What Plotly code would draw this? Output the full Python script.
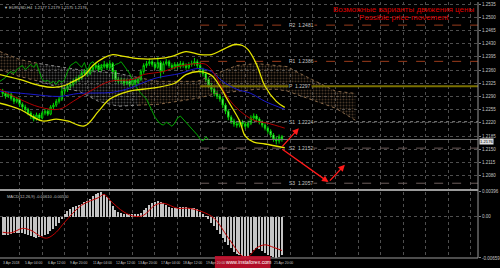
import plotly.graph_objects as go

# ---------------- DATA ----------------
# H4 bars, index 0..99
opens = [
1.2302, 1.2298, 1.2291, 1.2296, 1.2285, 1.2277, 1.2283, 1.2269, 1.2262, 1.2256,
1.2246, 1.2238, 1.2230, 1.2241, 1.2233, 1.2246, 1.2251, 1.2243, 1.2262, 1.2267,
1.2277, 1.2283, 1.2304, 1.2309, 1.2317, 1.2322, 1.2330, 1.2335, 1.2340, 1.2351,
1.2356, 1.2351, 1.2361, 1.2367, 1.2372, 1.2361, 1.2369, 1.2375, 1.2367, 1.2377,
1.2356, 1.2335, 1.2330, 1.2333, 1.2325, 1.2330, 1.2322, 1.2333, 1.2327, 1.2335,
1.2356, 1.2372, 1.2377, 1.2382, 1.2375, 1.2367, 1.2380, 1.2356, 1.2377, 1.2382,
1.2372, 1.2367, 1.2375, 1.2369, 1.2377, 1.2372, 1.2367, 1.2375, 1.2377, 1.2382,
1.2372, 1.2361, 1.2351, 1.2335, 1.2319, 1.2309, 1.2298, 1.2291, 1.2283, 1.2267,
1.2251, 1.2235, 1.2225, 1.2217, 1.2214, 1.2222, 1.2217, 1.2211, 1.2219, 1.2233,
1.2238, 1.2230, 1.2222, 1.2214, 1.2206, 1.2198, 1.2188, 1.2177, 1.2172, 1.2183]
closes = [
1.2298, 1.2291, 1.2296, 1.2285, 1.2277, 1.2283, 1.2269, 1.2262, 1.2256, 1.2246,
1.2238, 1.2230, 1.2241, 1.2233, 1.2246, 1.2251, 1.2243, 1.2262, 1.2267, 1.2277,
1.2283, 1.2304, 1.2309, 1.2317, 1.2322, 1.2330, 1.2335, 1.2340, 1.2351, 1.2356,
1.2351, 1.2361, 1.2367, 1.2372, 1.2361, 1.2369, 1.2375, 1.2367, 1.2377, 1.2356,
1.2335, 1.2330, 1.2333, 1.2325, 1.2330, 1.2322, 1.2333, 1.2327, 1.2335, 1.2356,
1.2372, 1.2377, 1.2382, 1.2375, 1.2367, 1.2380, 1.2356, 1.2377, 1.2382, 1.2372,
1.2367, 1.2375, 1.2369, 1.2377, 1.2372, 1.2367, 1.2375, 1.2377, 1.2382, 1.2372,
1.2361, 1.2351, 1.2335, 1.2319, 1.2309, 1.2298, 1.2291, 1.2283, 1.2267, 1.2251,
1.2235, 1.2225, 1.2217, 1.2214, 1.2222, 1.2217, 1.2211, 1.2219, 1.2233, 1.2238,
1.2230, 1.2222, 1.2214, 1.2206, 1.2198, 1.2188, 1.2177, 1.2172, 1.2183, 1.2176]
highs = [
1.2310, 1.2304, 1.2302, 1.2300, 1.2290, 1.2289, 1.2287, 1.2274, 1.2268, 1.2260,
1.2251, 1.2243, 1.2247, 1.2246, 1.2251, 1.2257, 1.2256, 1.2267, 1.2273, 1.2283,
1.2290, 1.2320, 1.2316, 1.2324, 1.2330, 1.2337, 1.2342, 1.2347, 1.2358, 1.2363,
1.2362, 1.2368, 1.2374, 1.2380, 1.2378, 1.2376, 1.2384, 1.2380, 1.2386, 1.2381,
1.2360, 1.2342, 1.2340, 1.2338, 1.2337, 1.2335, 1.2339, 1.2338, 1.2341, 1.2362,
1.2378, 1.2384, 1.2390, 1.2388, 1.2381, 1.2394, 1.2385, 1.2383, 1.2389, 1.2387,
1.2378, 1.2381, 1.2380, 1.2384, 1.2383, 1.2378, 1.2381, 1.2385, 1.2392, 1.2388,
1.2382, 1.2366, 1.2356, 1.2340, 1.2325, 1.2314, 1.2304, 1.2297, 1.2288, 1.2272,
1.2256, 1.2240, 1.2231, 1.2223, 1.2229, 1.2228, 1.2223, 1.2226, 1.2240, 1.2245,
1.2243, 1.2235, 1.2227, 1.2219, 1.2211, 1.2203, 1.2193, 1.2183, 1.2189, 1.2188]
lows = [
1.2290, 1.2284, 1.2286, 1.2279, 1.2270, 1.2272, 1.2262, 1.2255, 1.2249, 1.2240,
1.2230, 1.2224, 1.2226, 1.2227, 1.2229, 1.2240, 1.2238, 1.2240, 1.2256, 1.2262,
1.2271, 1.2278, 1.2297, 1.2302, 1.2311, 1.2316, 1.2324, 1.2329, 1.2334, 1.2345,
1.2343, 1.2346, 1.2355, 1.2361, 1.2355, 1.2356, 1.2364, 1.2360, 1.2362, 1.2335,
1.2328, 1.2323, 1.2324, 1.2318, 1.2320, 1.2316, 1.2318, 1.2321, 1.2322, 1.2331,
1.2350, 1.2366, 1.2371, 1.2369, 1.2361, 1.2362, 1.2338, 1.2350, 1.2372, 1.2366,
1.2360, 1.2362, 1.2363, 1.2364, 1.2366, 1.2361, 1.2362, 1.2369, 1.2371, 1.2365,
1.2350, 1.2343, 1.2328, 1.2312, 1.2301, 1.2290, 1.2283, 1.2276, 1.2259, 1.2243,
1.2227, 1.2217, 1.2210, 1.2207, 1.2208, 1.2210, 1.2204, 1.2206, 1.2214, 1.2227,
1.2224, 1.2216, 1.2208, 1.2200, 1.2191, 1.2181, 1.2170, 1.2163, 1.2165, 1.2170]
bars = list(range(len(closes)))
chikou_shift = 26

# Bollinger bands (yellow)
bb_up_bars = [-1, 6, 13, 18, 22, 25, 29, 32, 36, 39, 43, 48, 55, 60, 65, 70, 74, 78, 82, 85, 87, 90, 93, 97, 100]
bb_up_vals = [1.2348, 1.2335, 1.2319, 1.2314, 1.2319, 1.2330, 1.2346, 1.2372, 1.2393, 1.2401, 1.2396, 1.2390,
              1.2390, 1.2396, 1.2409, 1.2401, 1.2401, 1.2414, 1.2427, 1.2425, 1.2414, 1.2375, 1.2317, 1.2277, 1.2261]
bb_lo_bars = [-1, 6, 14, 19, 23, 29, 34, 38, 45, 53, 61, 65, 70, 74, 77, 80, 84, 86, 89, 93, 100]
bb_lo_vals = [1.2272, 1.2256, 1.2225, 1.2230, 1.2225, 1.2212, 1.2251, 1.2283, 1.2304, 1.2312, 1.2325, 1.2348,
              1.2356, 1.2346, 1.2317, 1.2277, 1.2225, 1.2185, 1.2169, 1.2164, 1.2154]
# moving averages
ma_red_bars = [-1, 6, 13, 20, 25, 31, 38, 46, 50, 57, 62, 69, 72, 75, 79, 83, 89, 94, 100]
ma_red_vals = [1.2309, 1.2283, 1.2262, 1.2256, 1.2277, 1.2304, 1.2330, 1.2335, 1.2348, 1.2356, 1.2369, 1.2377,
               1.2375, 1.2351, 1.2296, 1.2259, 1.2227, 1.2219, 1.2206]
ma_blue_bars = [-1, 10, 20, 27, 39, 45, 54, 63, 69, 74, 78, 83, 88, 93, 100]
ma_blue_vals = [1.2304, 1.2296, 1.2290, 1.2298, 1.2301, 1.2312, 1.2338, 1.2351, 1.2364, 1.2356, 1.2330, 1.2309,
                1.2298, 1.2277, 1.2256]
# Ichimoku cloud
cloud_bars = [-1, 6, 13, 20, 27, 34, 41, 48, 55, 62, 69, 76, 83, 90, 97, 101, 104, 111, 118, 125]
span_a = [1.2409, 1.2388, 1.2377, 1.2369, 1.2361, 1.2356, 1.2351, 1.2340, 1.2330, 1.2330, 1.2330, 1.2351,
          1.2372, 1.2377, 1.2372, 1.2369, 1.2356, 1.2330, 1.2304, 1.2298]
span_b = [1.2361, 1.2343, 1.2330, 1.2314, 1.2304, 1.2277, 1.2264, 1.2267, 1.2269, 1.2277, 1.2285, 1.2298,
          1.2304, 1.2309, 1.2309, 1.2304, 1.2296, 1.2277, 1.2259, 1.2227]

# pivot levels
pivot_names = ["R2", "R1", "P", "S1", "S2", "S3"]
pivot_text_vals = ["1.2481", "1.2386", "1.2297", "1.2224", "1.2152", "1.2057"]
pivot_levels = [1.2479, 1.2383, 1.2317, 1.2223, 1.2153, 1.2060]
pivot_colors = ["#9a3c1c", "#9a3c1c", "#7a7000", "#8c8c8c", "#6c5a58", "#6c5e5c"]
pivot_dash = ["dash", "dash", "solid", "dot", "dash", "dash"]
pivot_width = [1, 1, 2, 1, 1, 1]
pivot_start_bar = 70
pivot_label_bar = 101
last_price = 1.2176

# forecast path (bar, price)
fc_start = (98.6, 1.2153)
fc_up = (105.0, 1.2206)
fc_low = (115.5, 1.2063)
fc_rebound = (121.3, 1.2109)

# MACD
macd_hist = [
-0.0028, -0.0029, -0.0028, -0.0027, -0.0026, -0.0025, -0.0025, -0.0026, -0.0027, -0.0028,
-0.0030, -0.0032, -0.0033, -0.0032, -0.0031, -0.0029, -0.0027, -0.0023, -0.0019, -0.0015,
-0.0010, -0.0004, 0.0004, 0.0009, 0.0013, 0.0016, 0.0017, 0.0019, 0.0021, 0.0023,
0.0026, 0.0029, 0.0033, 0.0036, 0.0038, 0.0039, 0.0037, 0.0032, 0.0025, 0.0017,
0.0011, 0.0008, 0.0006, 0.0005, 0.0004, 0.0004, 0.0004, 0.0004, 0.0005, 0.0007,
0.0011, 0.0015, 0.0019, 0.0022, 0.0024, 0.0026, 0.0024, 0.0022, 0.0019, 0.0016,
0.0015, 0.0015, 0.0015, 0.0016, 0.0016, 0.0016, 0.0015, 0.0015, 0.0014, 0.0012,
0.0008, 0.0004, 0.0001, -0.0003, -0.0009, -0.0015, -0.0021, -0.0027, -0.0033, -0.0039,
-0.0045, -0.0050, -0.0055, -0.0058, -0.0060, -0.0062, -0.0063, -0.0062, -0.0057, -0.0052,
-0.0050, -0.0051, -0.0054, -0.0057, -0.0060, -0.0062, -0.0064, -0.0065, -0.0063, -0.0061]
signal_bars = [0, 3, 7, 10, 14, 16, 19, 22, 28, 34, 36, 38, 43, 47, 50, 54, 57, 62, 66, 71, 75, 80, 85, 87, 90, 93, 96, 99]
signal_vals = [-0.0025, -0.0026, -0.0019, -0.0022, -0.0033, -0.0034, -0.0025, -0.0009, 0.0018, 0.0030, 0.0035,
               0.0026, 0.0007, 0.0000, 0.0002, 0.0018, 0.0021, 0.0013, 0.0013, 0.0007, -0.0003, -0.0034,
               -0.0063, -0.0064, -0.0050, -0.0045, -0.0049, -0.0054]

# axes
price_ticks = [1.2045, 1.2080, 1.2115, 1.2150, 1.2185, 1.2220, 1.2255, 1.2290, 1.2325, 1.2360,
               1.2395, 1.2430, 1.2465, 1.2500, 1.2535]
price_tick_text = ["1.2045", "1.2080", "1.2115", "1.2150", "1.2185", "1.2220", "1.2255", "1.2290",
                   "1.2325", "1.2360", "1.2395", "1.2430", "1.2465", "1.2500", "1.2535"]
macd_ticks = [0.00396, 0.0, -0.00659]
macd_tick_text = ["0.00396", "0.00", "-0.00659"]
grid_bars = [-2, 6, 14, 22, 30, 38, 46, 54, 62, 70, 78, 86, 94, 102, 110, 118, 126, 134, 142, 150, 158, 166]
# visible date labels (the two under the broker logo are hidden in the reference)
date_bars = [-2, 6, 14, 22, 30, 38, 46, 54, 62, 70, 94]
date_labels = ["3 Apr 2018", "5 Apr 04:00", "6 Apr 12:00", "9 Apr 20:00", "11 Apr 04:00", "12 Apr 12:00",
               "13 Apr 20:00", "17 Apr 04:00", "18 Apr 12:00", "19 Apr 20:00", "25 Apr 20:00"]

X_RANGE = [-0.94, 168.5]
Y_RANGE = [1.20459, 1.25403]
M_RANGE = [-0.00659, 0.00396]
FONT = "Liberation Sans"
TXT = "#c4c4c4"
GRID = "#4e4e4e"

fig = go.Figure()

# Ichimoku cloud in three colour segments
segments = [(0, 3, "#8b6b4b"), (2, 8, "#8a8a8a"), (7, len(cloud_bars), "#8b6b4b")]
for a, b, col in segments:
    fig.add_trace(go.Scatter(x=cloud_bars[a:b], y=span_b[a:b], mode="lines",
                             line=dict(color=col, width=1, dash="dot"), hoverinfo="skip"))
    fig.add_trace(go.Scatter(x=cloud_bars[a:b], y=span_a[a:b], mode="lines",
                             line=dict(color=col, width=1, dash="dot"), fill="tonexty",
                             fillcolor="rgba(0,0,0,0)",
                             fillpattern=dict(shape=".", fgcolor=col, bgcolor="rgba(0,0,0,0)",
                                              size=3, solidity=0.35),
                             hoverinfo="skip"))

# pivot lines
for lvl, col, dsh, w in zip(pivot_levels, pivot_colors, pivot_dash, pivot_width):
    fig.add_trace(go.Scatter(x=[pivot_start_bar, X_RANGE[1]], y=[lvl, lvl], mode="lines",
                             line=dict(color=col, width=w, dash=dsh), hoverinfo="skip"))

# current price line
fig.add_trace(go.Scatter(x=X_RANGE, y=[last_price, last_price], mode="lines",
                         line=dict(color="#7a7a7a", width=1), hoverinfo="skip"))

# chikou span (closes shifted back)
fig.add_trace(go.Scatter(x=[b - chikou_shift for b in bars], y=closes, mode="lines",
                         line=dict(color="#00a800", width=1), hoverinfo="skip"))

# moving averages
fig.add_trace(go.Scatter(x=ma_blue_bars, y=ma_blue_vals, mode="lines", line_shape="spline",
                         line=dict(color="#1a1acc", width=1), hoverinfo="skip"))
fig.add_trace(go.Scatter(x=ma_red_bars, y=ma_red_vals, mode="lines", line_shape="spline",
                         line=dict(color="#b00000", width=1), hoverinfo="skip"))
# bollinger
fig.add_trace(go.Scatter(x=bb_up_bars, y=bb_up_vals, mode="lines", line_shape="spline",
                         line=dict(color="#e4e400", width=1.3), hoverinfo="skip"))
fig.add_trace(go.Scatter(x=bb_lo_bars, y=bb_lo_vals, mode="lines", line_shape="spline",
                         line=dict(color="#e4e400", width=1.3), hoverinfo="skip"))

# candles
fig.add_trace(go.Candlestick(x=bars, open=opens, high=highs, low=lows, close=closes,
                             increasing=dict(line=dict(color="#00d000", width=1), fillcolor="#000000"),
                             decreasing=dict(line=dict(color="#00d000", width=1), fillcolor="#d8ffd8"),
                             whiskerwidth=0, hoverinfo="skip"))

# MACD
fig.add_trace(go.Bar(x=bars, y=macd_hist, width=0.45, marker=dict(color="#c4c4c4", line=dict(width=0)),
                     xaxis="x2", yaxis="y2", hoverinfo="skip"))
fig.add_trace(go.Scatter(x=signal_bars, y=signal_vals, mode="lines", line_shape="spline",
                         line=dict(color="#c00000", width=1), xaxis="x2", yaxis="y2", hoverinfo="skip"))

axis_common = dict(range=X_RANGE, tickvals=grid_bars, showticklabels=False, showgrid=True,
                   gridcolor=GRID, griddash="dot", gridwidth=1, zeroline=False, ticks="",
                   showline=False, fixedrange=True)

fig.update_layout(
    width=500, height=268, margin=dict(l=0, r=15, t=0, b=10),
    paper_bgcolor="#000000", plot_bgcolor="#000000", showlegend=False,
    font=dict(family=FONT, color=TXT, size=5),
    xaxis=dict(domain=[0, 1], anchor="y", rangeslider=dict(visible=False), **axis_common),
    xaxis2=dict(domain=[0, 1], anchor="y2", matches="x", **axis_common),
    yaxis=dict(domain=[0.2713, 1], range=Y_RANGE, side="right", anchor="x",
               tickvals=price_ticks, ticktext=price_tick_text, tickfont=dict(size=4.5, color=TXT),
               showgrid=True, gridcolor=GRID, griddash="dot", zeroline=False,
               ticks="outside", ticklen=2, tickcolor="#808080"),
    yaxis2=dict(domain=[0, 0.2597], range=M_RANGE, side="right", anchor="x2",
                tickvals=macd_ticks, ticktext=macd_tick_text, tickfont=dict(size=4.5, color=TXT),
                showgrid=True, gridcolor=GRID, griddash="dot", zeroline=False,
                ticks="outside", ticklen=2, tickcolor="#808080"),
    bargap=0,
)

shapes = [
    dict(type="line", xref="paper", yref="paper", x0=1, x1=1, y0=0, y1=1,
         line=dict(color="#9a9a9a", width=1)),
    dict(type="line", xref="paper", yref="paper", x0=0, x1=1, y0=0.2655, y1=0.2655,
         line=dict(color="#9a9a9a", width=2)),
    dict(type="line", xref="paper", yref="paper", x0=0, x1=1, y0=0, y1=0,
         line=dict(color="#9a9a9a", width=1)),
    dict(type="rect", xref="paper", yref="paper", x0=0.4495, x1=0.5660, y0=-0.0388, y1=0.0078,
         fillcolor="#c8102e", opacity=0.88, line=dict(width=0)),
]
fig.update_layout(shapes=shapes)

ann = []
ann.append(dict(xref="paper", yref="paper", x=0.004, y=1, xanchor="left", yanchor="top", yshift=-1,
                text="\u25bc EURUSD,H4  1.2177 1.2179 1.2175 1.2176", showarrow=False,
                font=dict(size=4, color=TXT)))
ann.append(dict(xref="paper", yref="paper", x=0.845, y=0.969, xanchor="center", yanchor="middle",
                text="Возможные варианты движения цены", showarrow=False,
                font=dict(size=8, color="#dd0000")))
ann.append(dict(xref="paper", yref="paper", x=0.845, y=0.938, xanchor="center", yanchor="middle",
                text="Possible price movement", showarrow=False,
                font=dict(size=8, color="#dd0000")))
ann.append(dict(xref="paper", yref="paper", x=0.01, y=0.2597, xanchor="left", yanchor="top",
                text="MACD(12,26,9) -0.00610 -0.00550", showarrow=False,
                font=dict(size=4, color=TXT)))
for nm, tv, lvl in zip(pivot_names, pivot_text_vals, pivot_levels):
    ann.append(dict(xref="x", yref="y", x=pivot_label_bar, y=lvl, xanchor="left", yanchor="middle",
                    text=f"{nm}  {tv}", showarrow=False, bgcolor="#000000", borderpad=0,
                    font=dict(size=5, color="#c8c8c8")))
for b, t in zip(date_bars, date_labels):
    ann.append(dict(xref="x", yref="paper", x=b + 1.3, y=0, xanchor="left", yanchor="top", yshift=-1,
                    text=t, showarrow=False, font=dict(size=3.4, color=TXT)))
ann.append(dict(xref="paper", yref="y", x=1, y=last_price, xanchor="left", yanchor="middle", xshift=1,
                yshift=-2, text=f"{last_price:.4f}", showarrow=False, bgcolor="#e0e0e0", borderpad=0,
                font=dict(size=4.2, color="#000000")))
ann.append(dict(xref="paper", yref="paper", x=0.5205, y=-0.0155, xanchor="center", yanchor="middle",
                text="www.instaforex.com", showarrow=False, font=dict(size=5.1, color="#ffffff")))
for (sx, sy), (ex, ey) in [(fc_start, fc_up), (fc_start, fc_low), (fc_low, fc_rebound)]:
    ann.append(dict(xref="x", yref="y", axref="x", ayref="y", x=ex, y=ey, ax=sx, ay=sy, text="",
                    showarrow=True, arrowhead=2, arrowsize=1, arrowwidth=1.3, arrowcolor="#ff1a1a"))
fig.update_layout(annotations=ann)

fig.write_html("out.html")
